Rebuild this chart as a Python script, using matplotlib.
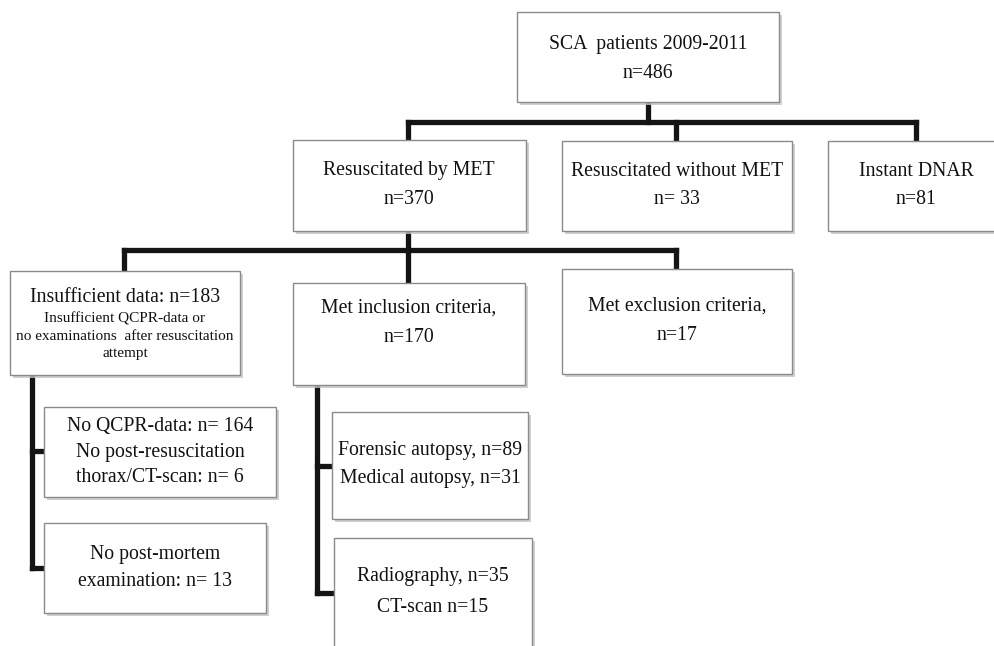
import matplotlib
matplotlib.use("Agg")
import matplotlib.pyplot as plt
from matplotlib.patches import Rectangle

# ---- data (flowchart content) ----
titles = ["SCA  patients 2009-2011", "Resuscitated by MET", "Resuscitated without MET",
          "Instant DNAR", "Insufficient data: n=183", "Met inclusion criteria,",
          "Met exclusion criteria,"]
counts = ["n=486", "n=370", "n= 33", "n=81", "", "n=170", "n=17"]
insufficient_detail = ["Insufficient QCPR-data or", "no examinations  after resuscitation", "attempt"]
excluded_lines = ["No QCPR-data: n= 164", "No post-resuscitation", "thorax/CT-scan: n= 6"]
postmortem_lines = ["No post-mortem", "examination: n= 13"]
autopsy_lines = ["Forensic autopsy, n=89", "Medical autopsy, n=31"]
imaging_lines = ["Radiography, n=35", "CT-scan n=15"]

# ---- layout (pixel coordinates, x0, y0, x1, y1) ----
W, H = 994, 646
boxes = {
    "top": (517, 12, 779, 102),
    "met": (293, 140, 526, 231),
    "nomet": (562, 141, 792, 231),
    "dnar": (828, 141, 1010, 231),
    "insuf": (10, 271, 240, 375),
    "incl": (293, 283, 525, 385),
    "excl": (562, 269, 792, 374),
    "qcpr": (44, 407, 276, 497),
    "pm": (44, 523, 266, 613),
    "aut": (332, 412, 528, 519),
    "img": (334, 538, 532, 660),
}

fig = plt.figure(figsize=(W / 100, H / 100), dpi=100)
ax = fig.add_axes([0, 0, 1, 1])
ax.set_xlim(0, W)
ax.set_ylim(H, 0)
ax.axis("off")

FONT = "Liberation Serif"
LW = 3.8

def box(key):
    x0, y0, x1, y1 = boxes[key]
    ax.add_patch(Rectangle((x0 + 3, y0 + 3), x1 - x0, y1 - y0, facecolor="#c4c4c4",
                           edgecolor="none", zorder=2, alpha=0.8))
    ax.add_patch(Rectangle((x0, y0), x1 - x0, y1 - y0, facecolor="white",
                           edgecolor="#8a8a8a", lw=1.0, zorder=3))

def txt(x, y, s, size=14.2):
    ax.text(x, y, s, ha="center", va="center", fontsize=size, family=FONT,
            color="#111111", zorder=4)

def line(xs, ys):
    ax.plot(xs, ys, color="#141414", lw=LW, solid_capstyle="projecting",
            solid_joinstyle="miter", zorder=1)

# connectors
line([648, 648], [102, 122])
line([408, 916], [122, 122])
line([408, 408], [122, 140])
line([676, 676], [122, 141])
line([916, 916], [122, 141])
line([408, 408], [231, 250])
line([124, 676], [250, 250])
line([124, 124], [250, 271])
line([408, 408], [250, 283])
line([676, 676], [250, 269])
line([32, 32], [375, 568])
line([32, 44], [451, 451])
line([32, 44], [568, 568])
line([317, 317], [385, 593])
line([317, 332], [466, 466])
line([317, 334], [593, 593])

for k in boxes:
    box(k)

# texts
txt(648, 45, titles[0]); txt(648, 73, counts[0])
txt(409, 170, titles[1]); txt(409, 200, counts[1])
txt(677, 171, titles[2]); txt(677, 200, counts[2])
txt(916, 171, titles[3]); txt(916, 200, counts[3])
txt(125, 297, titles[4])
for y, s in zip([319, 336, 353], insufficient_detail):
    txt(125, y, s, size=11)
txt(409, 308, titles[5]); txt(409, 337, counts[5])
txt(677, 306, titles[6]); txt(677, 335, counts[6])
for y, s in zip([427, 452, 477], excluded_lines):
    txt(160, y, s)
for y, s in zip([555, 582], postmortem_lines):
    txt(155, y, s)
for y, s in zip([450, 478], autopsy_lines):
    txt(430, y, s)
for y, s in zip([577, 607], imaging_lines):
    txt(433, y, s)

fig.savefig("out.png", dpi=100, facecolor="white")
